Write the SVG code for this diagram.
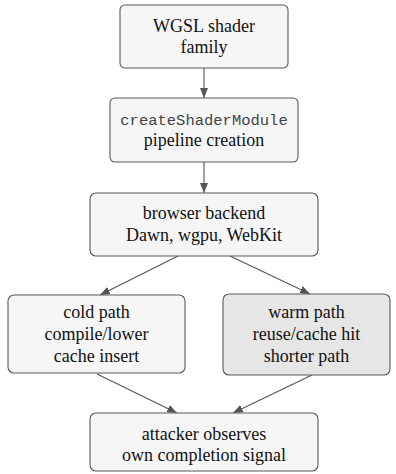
<svg xmlns="http://www.w3.org/2000/svg" width="396" height="474" viewBox="0 0 396 474">
<defs>
<style>
.box{fill:#f6f6f6;stroke:#5a5a5a;stroke-width:1.1}
.warm{fill:#e6e6e6}
.c{stroke:#555;stroke-width:1.1;fill:none}
text{font-family:"Times New Roman","Liberation Serif","DejaVu Serif",serif;font-size:18px;fill:#111;text-anchor:middle}
text.m{font-family:"Courier New","Liberation Mono",monospace;font-size:15.5px;fill:#444}
</style>
<marker id="ah" viewBox="0 0 10 8" refX="10" refY="4" markerWidth="10" markerHeight="8" markerUnits="userSpaceOnUse" orient="auto">
<path d="M0,0 L10,4 L0,8 Z" fill="#555"/>
</marker>
</defs>
<g id="connectors">
<line class="c" x1="204" y1="68" x2="204" y2="98" marker-end="url(#ah)"/>
<line class="c" x1="204" y1="162" x2="204" y2="193" marker-end="url(#ah)"/>
<line class="c" x1="178" y1="256" x2="100" y2="295" marker-end="url(#ah)"/>
<line class="c" x1="230" y1="256" x2="310" y2="294" marker-end="url(#ah)"/>
<line class="c" x1="97" y1="374" x2="177" y2="413" marker-end="url(#ah)"/>
<line class="c" x1="312" y1="375" x2="233" y2="413" marker-end="url(#ah)"/>
</g>
<g id="n1">
<rect class="box" x="120" y="5" width="168" height="63" rx="5"/>
<text x="204" y="31.5">WGSL shader</text>
<text x="204" y="52.5">family</text>
</g>
<g id="n2">
<rect class="box" x="110" y="98" width="188" height="64" rx="5"/>
<text class="m" x="204" y="125">createShaderModule</text>
<text x="204" y="145.5">pipeline creation</text>
</g>
<g id="n3">
<rect class="box" x="90" y="193" width="228" height="63" rx="6"/>
<text x="204" y="219">browser backend</text>
<text x="204" y="240.5">Dawn, wgpu, WebKit</text>
</g>
<g id="n4">
<rect class="box" x="8" y="295" width="177" height="78" rx="6"/>
<text x="96.5" y="318">cold path</text>
<text x="96.5" y="340">compile/lower</text>
<text x="96.5" y="362">cache insert</text>
</g>
<g id="n5">
<rect class="box warm" x="223" y="294" width="167" height="81" rx="6"/>
<text x="306.5" y="318">warm path</text>
<text x="306.5" y="340">reuse/cache hit</text>
<text x="306.5" y="362">shorter path</text>
</g>
<g id="n6">
<rect class="box" x="90" y="413" width="228" height="58" rx="6"/>
<text x="204" y="440">attacker observes</text>
<text x="204" y="461">own completion signal</text>
</g>
</svg>
